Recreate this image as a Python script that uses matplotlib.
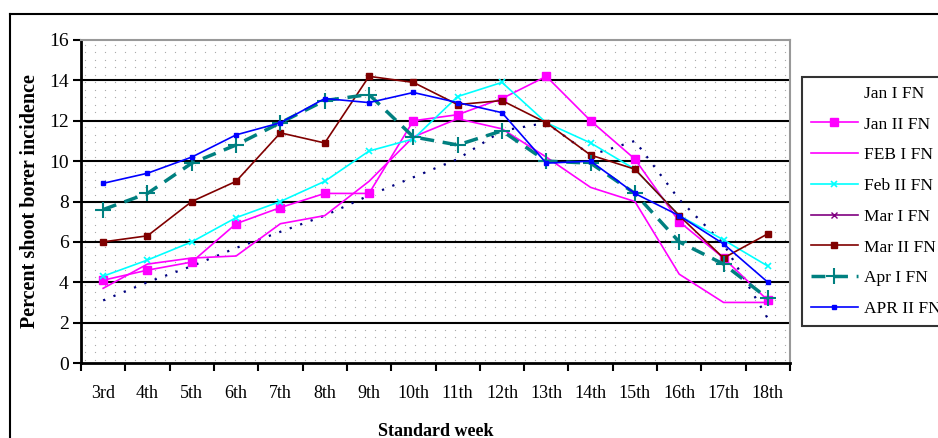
import numpy as np
import matplotlib.pyplot as plt
from matplotlib.lines import Line2D

plt.rcParams['font.family'] = ['Liberation Serif', 'DejaVu Serif']

weeks = ['3rd', '4th', '5th', '6th', '7th', '8th', '9th', '10th',
         '11th', '12th', '13th', '14th', '15th', '16th', '17th', '18th']

jan1 = [3.1, 4.0, 4.8, 5.7, 6.5, 7.3, 8.3, 9.2, 10.1, 11.5, 11.9, 10.3, 11.0, 8.1, 5.9, 2.2]
jan2 = [4.1, 4.6, 5.0, 6.9, 7.7, 8.4, 8.4, 12.0, 12.3, 13.1, 14.2, 12.0, 10.1, 7.0, 5.2, 3.1]
feb1 = [3.7, 4.9, 5.2, 5.3, 6.9, 7.3, 9.0, 11.2, 12.1, 11.6, 10.2, 8.7, 8.0, 4.4, 3.0, 3.0]
feb2 = [4.3, 5.1, 6.0, 7.2, 8.0, 9.0, 10.5, 11.1, 13.2, 13.9, 11.9, 10.9, 9.6, 7.3, 6.1, 4.8]
mar1 = []
mar2 = [6.0, 6.3, 8.0, 9.0, 11.4, 10.9, 14.2, 13.9, 12.8, 13.0, 11.9, 10.3, 9.6, 7.3, 5.2, 6.4]
apr1 = [7.6, 8.4, 9.9, 10.8, 11.9, 13.0, 13.3, 11.2, 10.8, 11.5, 10.0, 9.9, 8.4, 6.0, 4.9, 3.2]
apr2 = [8.9, 9.4, 10.2, 11.3, 11.9, 13.1, 12.9, 13.4, 12.9, 12.4, 9.9, 10.0, 8.4, 7.3, 5.9, 4.0]

fig = plt.figure(figsize=(9.38, 4.38), dpi=100)
ax = fig.add_axes([81/938, 1 - 363/438, 709/938, 323/438])

x = np.arange(len(weeks))

# dotted texture behind the plot area
gx, gy = np.meshgrid(np.arange(0.006, 1, 10/709), np.arange(0.01, 1, 7.5/323))
ax.scatter(gx.ravel(), gy.ravel(), s=0.8, color='#a8a8a8', transform=ax.transAxes,
           zorder=0, linewidths=0)

for v in range(2, 16, 2):
    ax.axhline(v, color='black', lw=1.5, zorder=1)

ax.plot(x, jan1, color='#000080', lw=1.6, ls=(0, (1, 4)), label='Jan I FN', zorder=3)
ax.plot(x, jan2, color='#ff00ff', lw=1.2, marker='s', ms=6, label='Jan II FN', zorder=3)
ax.plot(x, feb1, color='#ff00ff', lw=1.2, label='FEB I FN', zorder=3)
ax.plot(x, feb2, color='#00ffff', lw=1.2, marker='x', ms=5, mew=1.2, label='Feb II FN', zorder=3)
ax.plot(x[:len(mar1)], mar1, color='#800080', lw=1.2, marker='x', ms=4, label='Mar I FN', zorder=3)
ax.plot(x, mar2, color='#800000', lw=1.2, marker='s', ms=5, label='Mar II FN', zorder=3)
ax.plot(x, apr1, color='#008080', lw=2.5, ls=(0, (4, 2.5)), marker='+', ms=11, mew=1.5,
        label='Apr I FN', zorder=3)
ax.plot(x, apr2, color='#0000ff', lw=1.2, marker='s', ms=2.5, label='APR II FN', zorder=3)

ax.set_xlim(-0.5, len(weeks) - 0.5)
ax.set_ylim(0, 16)
ax.set_yticks(range(0, 17, 2))
ax.tick_params(axis='y', direction='out', length=6, width=1.5, labelsize=14, pad=3)
ax.set_xticks(x)
ax.set_xticklabels(weeks)
ax.tick_params(axis='x', which='major', length=0, labelsize=13, pad=16)
ax.set_xticks(np.arange(-0.5, len(weeks)), minor=True)
ax.tick_params(axis='x', which='minor', direction='out', length=6, width=1.5)

for s in ['left', 'bottom']:
    ax.spines[s].set_color('black')
    ax.spines[s].set_linewidth(2)
for s in ['top', 'right']:
    ax.spines[s].set_color('#999999')
    ax.spines[s].set_linewidth(1.5)

ax.set_ylabel('Percent shoot borer incidence', fontsize=14.5, fontweight='bold', labelpad=6)
ax.set_xlabel('Standard week', fontsize=13, fontweight='bold', labelpad=15)

leg = fig.legend(loc='upper left', bbox_to_anchor=(802/938, 1 - 77/438),
                 fontsize=12.5, frameon=True, fancybox=False, edgecolor='black',
                 handlelength=2.7, handletextpad=0.35, labelspacing=0.84,
                 borderpad=0.5, borderaxespad=0)
leg.get_frame().set_linewidth(1.5)
leg.legend_handles[0].set_visible(False)

# outer chart border
fig.add_artist(Line2D([10/938, 1], [1 - 14/438, 1 - 14/438], color='black', lw=1.5,
                      transform=fig.transFigure))
fig.add_artist(Line2D([10/938, 10/938], [0, 1 - 14/438], color='black', lw=1.5,
                      transform=fig.transFigure))

fig.savefig('out.png', dpi=100)
